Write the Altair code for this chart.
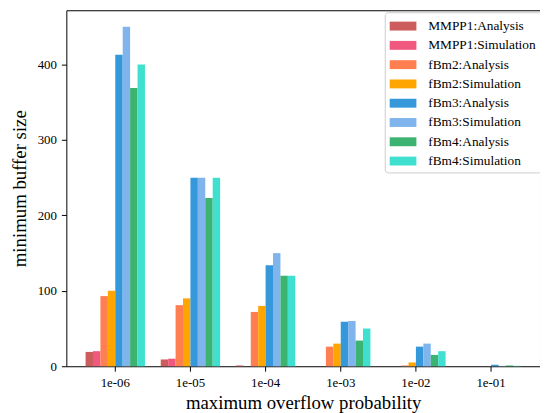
import altair as alt
import pandas as pd

categories = ["1e-06", "1e-05", "1e-04", "1e-03", "1e-02", "1e-01"]
series = ["MMPP1:Analysis", "MMPP1:Simulation", "fBm2:Analysis", "fBm2:Simulation",
          "fBm3:Analysis", "fBm3:Simulation", "fBm4:Analysis", "fBm4:Simulation"]
colors = ["#CD5C5C", "#F0587F", "#FF7F50", "#FFA500",
          "#3498DB", "#7FB5EC", "#3CB371", "#40E0D0"]

mmpp1_analysis = [19, 9, 1, 0, 0, 0]
mmpp1_simulation = [20, 10, 0, 0, 0, 0]
fbm2_analysis = [93, 81, 72, 26, 1, 0]
fbm2_simulation = [100, 90, 80, 30, 5, 0]
fbm3_analysis = [413, 250, 134, 59, 26, 2]
fbm3_simulation = [450, 250, 150, 60, 30, 0.5]
fbm4_analysis = [369, 223, 120, 34, 15, 1]
fbm4_simulation = [400, 250, 120, 50, 20, 0.5]

values = [mmpp1_analysis, mmpp1_simulation, fbm2_analysis, fbm2_simulation,
          fbm3_analysis, fbm3_simulation, fbm4_analysis, fbm4_simulation]

rows = []
for s, vals in zip(series, values):
    for c, v in zip(categories, vals):
        rows.append({"prob": c, "series": s, "value": v})
df = pd.DataFrame(rows)

FONT = "Liberation Serif"

chart = alt.Chart(df).mark_bar().encode(
    x=alt.X("prob:N", sort=categories,
            scale=alt.Scale(paddingInner=0.21, paddingOuter=0.256),
            axis=alt.Axis(title="maximum overflow probability", labelAngle=0,
                          titleFontSize=19, titlePadding=5, labelPadding=5,
                          labelFont=FONT, labelFontSize=13, titleFont=FONT)),
    xOffset=alt.XOffset("series:N", sort=series, scale=alt.Scale(paddingInner=0, paddingOuter=0)),
    y=alt.Y("value:Q", scale=alt.Scale(domain=[0, 472], nice=False),
            axis=alt.Axis(title="minimum buffer size", values=[0, 100, 200, 300, 400],
                          titleFontSize=19, titlePadding=8, labelPadding=5,
                          labelFont=FONT, labelFontSize=13, titleFont=FONT)),
    color=alt.Color("series:N", sort=series,
                    scale=alt.Scale(domain=series, range=colors),
                    legend=alt.Legend(title=None, orient="none", legendX=322, legendY=2,
                                      symbolType="M-1,-0.5H2V0.5H-1Z", symbolSize=324,
                                      symbolStrokeWidth=0, symbolOpacity=1,
                                      labelOffset=21, labelFontSize=13.5, labelFont=FONT,
                                      labelColor="black", padding=5, rowPadding=3.5,
                                      labelLimit=200,
                                      strokeColor="#cccccc", cornerRadius=3,
                                      fillColor="white")),
).properties(
    width=479, height=360,
    autosize=alt.AutoSizeParams(type="none"),
    padding={"left": 59, "top": 0, "right": 0, "bottom": 45},
).configure_view(
    stroke="black", strokeWidth=1
).configure_axis(
    grid=False, domain=False, tickColor="black", tickSize=5, labelColor="black",
    titleColor="black", titleFontWeight="normal"
)

chart.save("out.html", embed_options={"renderer": "svg", "actions": False})
